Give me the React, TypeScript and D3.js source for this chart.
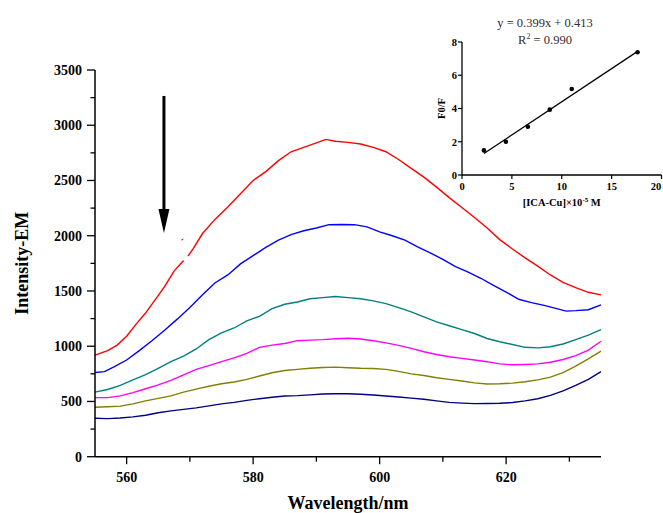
import React from 'react';
import * as d3 from 'd3';

// ---------- main chart data ----------
const xTickMajor = [560, 580, 600, 620];
const xTickMinor = [570, 590, 610, 630];
const yTickMajor = [0, 500, 1000, 1500, 2000, 2500, 3000, 3500];
const yTickMinor = [250, 750, 1250, 1750, 2250, 2750, 3250];

type Pt = [number, number | null];

const redCurve: Pt[] = [
  [555, 920], [557, 960], [558.5, 1010], [560, 1090], [561.5, 1200], [563, 1300], [564.5, 1420],
  [566, 1540], [567.5, 1680], [569, 1775], [569.3, null], [569.7, 1815], [570.5, 1880], [572, 2020],
  [574, 2150], [576, 2260], [578, 2380], [580, 2500], [582, 2580], [584, 2680], [586, 2760],
  [588, 2800], [590, 2840], [591.5, 2872], [593, 2855], [595, 2845], [597, 2830], [599, 2800],
  [601, 2760], [603, 2690], [605, 2610], [607, 2530], [609, 2440], [611, 2345], [613, 2255],
  [615, 2165], [617, 2070], [619, 1965], [621, 1880], [623, 1800], [625, 1725], [627, 1645],
  [629, 1578], [631, 1530], [633, 1488], [635, 1465],
];
const redStray: [number, number][] = [[568.8, 1965]];

const blueCurve: Pt[] = [
  [555, 762], [556.5, 770], [558, 812], [560, 875], [562, 960], [564, 1050], [566, 1145],
  [568, 1245], [570, 1350], [572, 1465], [574, 1575], [576, 1645], [578, 1745], [580, 1820],
  [582, 1895], [584, 1960], [586, 2010], [588, 2045], [590, 2070], [592, 2100], [594, 2102],
  [596, 2100], [598, 2080], [600, 2035], [602, 2000], [604, 1960], [606, 1900], [608, 1845],
  [610, 1785], [612, 1720], [614, 1670], [616, 1615], [618, 1550], [620, 1490], [622, 1425],
  [624, 1395], [626, 1370], [628, 1340], [629.5, 1318], [631, 1322], [633, 1330], [635, 1375],
];

const tealCurve: Pt[] = [
  [555, 584], [557, 608], [559, 645], [561, 695], [563, 742], [565, 800], [567, 860], [569, 910],
  [571, 975], [573, 1060], [575, 1120], [577, 1165], [579, 1230], [581, 1270], [583, 1340],
  [585, 1380], [587, 1400], [589, 1430], [591, 1440], [593, 1450], [595, 1440], [597, 1430],
  [599, 1410], [601, 1385], [603, 1350], [605, 1310], [607, 1265], [609, 1220], [611, 1185],
  [613, 1150], [615, 1115], [617, 1070], [619, 1040], [621, 1015], [623, 990], [625, 985],
  [627, 995], [629, 1020], [631, 1060], [633, 1100], [635, 1150],
];

const magentaCurve: Pt[] = [
  [555, 535], [557, 535], [559, 550], [561, 580], [563, 615], [565, 650], [567, 690], [569, 740],
  [571, 790], [573, 825], [575, 860], [577, 895], [579, 935], [581, 990], [583, 1010], [585, 1025],
  [587, 1050], [589, 1055], [591, 1060], [593, 1068], [595, 1072], [597, 1065], [599, 1050],
  [601, 1030], [603, 1008], [605, 980], [607, 950], [609, 925], [611, 905], [613, 890], [615, 875],
  [617, 860], [619, 840], [621, 832], [623, 835], [625, 840], [627, 855], [629, 880], [631, 915],
  [633, 965], [635, 1045],
];

const oliveCurve: Pt[] = [
  [555, 448], [557, 452], [559, 458], [561, 478], [563, 505], [565, 528], [567, 550], [569, 585],
  [571, 612], [573, 638], [575, 660], [577, 676], [579, 700], [581, 730], [583, 760], [585, 780],
  [587, 790], [589, 800], [591, 808], [593, 811], [595, 805], [597, 800], [599, 798], [601, 790],
  [603, 772], [605, 750], [607, 735], [609, 715], [611, 700], [613, 685], [615, 668], [617, 658],
  [619, 660], [621, 666], [623, 678], [625, 695], [627, 720], [629, 760], [631, 820], [633, 885],
  [635, 955],
];

const navyCurve: Pt[] = [
  [555, 348], [557, 345], [559, 350], [561, 360], [563, 375], [565, 398], [567, 415], [569, 428],
  [571, 442], [573, 460], [575, 478], [577, 492], [579, 510], [581, 525], [583, 538], [585, 550],
  [587, 553], [589, 560], [591, 568], [593, 570], [595, 570], [597, 565], [599, 558], [601, 550],
  [603, 540], [605, 530], [607, 520], [609, 505], [611, 492], [613, 485], [615, 480], [617, 482],
  [619, 484], [621, 490], [623, 505], [625, 525], [627, 555], [629, 595], [631, 645], [633, 700],
  [635, 770],
];

const seriesList = [
  { name: 'c1', color: '#FF0000', data: redCurve },
  { name: 'c2', color: '#0000FF', data: blueCurve },
  { name: 'c3', color: '#008080', data: tealCurve },
  { name: 'c4', color: '#FF00FF', data: magentaCurve },
  { name: 'c5', color: '#808000', data: oliveCurve },
  { name: 'c6', color: '#000080', data: navyCurve },
];

// arrow (in data units)
const arrowWavelength = [565.9];
const arrowFrom = [3265];
const arrowTo = [2025];

// ---------- inset data ----------
const insetX = [2.2, 4.4, 6.6, 8.8, 11.0, 17.6];
const insetY = [1.48, 2.0, 2.9, 3.93, 5.17, 7.38];
const fitSlope = 0.399;
const fitIntercept = 0.413;
const insetXTicks = [0, 5, 10, 15, 20];
const insetYTicks = [0, 2, 4, 6, 8];

const FONT = '"Liberation Serif", "Times New Roman", serif';

export default function App() {
  const W = 663;
  const H = 513;
  // main plot
  const x = d3.scaleLinear().domain([555, 635]).range([95, 601]);
  const y = d3.scaleLinear().domain([0, 3500]).range([456.7, 70]);

  const line = d3
    .line<Pt>()
    .defined((d) => d[1] !== null)
    .x((d) => x(d[0]))
    .y((d) => y(d[1] as number));

  // inset
  const ix = d3.scaleLinear().domain([0, 20]).range([462, 661.5]);
  const iy = d3.scaleLinear().domain([0, 8]).range([175, 42]);
  const fitX = [d3.min(insetX) as number, d3.max(insetX) as number];

  const ax = x(arrowWavelength[0]);
  const ay1 = y(arrowFrom[0]);
  const ay2 = y(arrowTo[0]);

  return (
    <svg
      width={W}
      height={H}
      style={{ position: 'absolute', left: 0, top: 0, background: '#fff' }}
      fontFamily={FONT}
    >
      <rect x={0} y={0} width={W} height={H} fill="#fff" />

      {/* curves */}
      {seriesList.map((s) => (
        <path key={s.name} d={line(s.data) || ''} fill="none" stroke={s.color} strokeWidth={1.4} />
      ))}
      {redStray.map((d, i) => (
        <rect key={i} x={x(d[0]) - 0.7} y={y(d[1]) - 0.7} width={1.4} height={1.4} fill="#FF0000" />
      ))}

      {/* main axes */}
      <line x1={95} x2={95} y1={y(3500)} y2={y(0)} stroke="#000" strokeWidth={1.5} />
      <line x1={95} x2={x(635)} y1={y(0)} y2={y(0)} stroke="#000" strokeWidth={1.5} />
      {yTickMajor.map((t) => (
        <g key={'ym' + t}>
          <line x1={87} x2={95} y1={y(t)} y2={y(t)} stroke="#000" strokeWidth={1.3} />
          <text x={82} y={y(t) + 5} textAnchor="end" fontSize={14} fontWeight="bold">
            {t}
          </text>
        </g>
      ))}
      {yTickMinor.map((t) => (
        <line key={'yn' + t} x1={90.5} x2={95} y1={y(t)} y2={y(t)} stroke="#000" strokeWidth={1.3} />
      ))}
      {xTickMajor.map((t) => (
        <g key={'xm' + t}>
          <line x1={x(t)} x2={x(t)} y1={y(0)} y2={y(0) + 7.5} stroke="#000" strokeWidth={1.3} />
          <text x={x(t)} y={481.5} textAnchor="middle" fontSize={14} fontWeight="bold">
            {t}
          </text>
        </g>
      ))}
      {xTickMinor.map((t) => (
        <line key={'xn' + t} x1={x(t)} x2={x(t)} y1={y(0)} y2={y(0) + 5} stroke="#000" strokeWidth={1.3} />
      ))}
      <text x={348} y={509} textAnchor="middle" fontSize={18} fontWeight="bold">
        Wavelength/nm
      </text>
      <text
        transform={`translate(28, ${(y(0) + y(3500)) / 2}) rotate(-90)`}
        textAnchor="middle"
        fontSize={18}
        fontWeight="bold"
      >
        Intensity-EM
      </text>

      {/* arrow */}
      <line x1={ax} x2={ax} y1={ay1} y2={ay2 - 20} stroke="#000" strokeWidth={3} />
      <path d={`M${ax - 5.5},${ay2 - 24} L${ax + 5.5},${ay2 - 24} L${ax},${ay2} Z`} fill="#000" />

      {/* inset */}
      <text x={545} y={27} textAnchor="middle" fontSize={12.5} fill="#3a2a2a">
        y = 0.399x + 0.413
      </text>
      <text x={545} y={44} textAnchor="middle" fontSize={12.5} fill="#3a2a2a">
        R<tspan dy={-5} fontSize={8}>2</tspan>
        <tspan dy={5}> = 0.990</tspan>
      </text>
      <line x1={ix(0)} x2={ix(0)} y1={iy(0)} y2={iy(8)} stroke="#000" strokeWidth={1.3} />
      <line x1={ix(0)} x2={ix(20)} y1={iy(0)} y2={iy(0)} stroke="#000" strokeWidth={1.3} />
      {insetYTicks.map((t) => (
        <g key={'iy' + t}>
          <line x1={ix(0) - 4} x2={ix(0)} y1={iy(t)} y2={iy(t)} stroke="#000" strokeWidth={1.2} />
          <text x={ix(0) - 5} y={iy(t) + 3.8} textAnchor="end" fontSize={10.5} fontWeight="bold">
            {t}
          </text>
        </g>
      ))}
      {insetXTicks.map((t) => (
        <g key={'ix' + t}>
          <line x1={ix(t)} x2={ix(t)} y1={iy(0)} y2={iy(0) + 4} stroke="#000" strokeWidth={1.2} />
          <text
            x={Math.min(ix(t), W - 7)}
            y={iy(0) + 15}
            textAnchor="middle"
            fontSize={10.5}
            fontWeight="bold"
          >
            {t}
          </text>
        </g>
      ))}
      <text
        transform={`translate(445, ${(iy(0) + iy(8)) / 2}) rotate(-90)`}
        textAnchor="middle"
        fontSize={10.5}
        fontWeight="bold"
      >
        F0/F
      </text>
      <text x={ix(10)} y={206} textAnchor="middle" fontSize={10.5} fontWeight="bold">
        [ICA-Cu]×10<tspan dy={-4} fontSize={7}>-5</tspan>
        <tspan dy={4}> M</tspan>
      </text>
      <line
        x1={ix(fitX[0])}
        x2={ix(fitX[1])}
        y1={iy(fitSlope * fitX[0] + fitIntercept)}
        y2={iy(fitSlope * fitX[1] + fitIntercept)}
        stroke="#000"
        strokeWidth={1.3}
      />
      {insetX.map((v, i) => (
        <circle key={'ip' + i} cx={ix(v)} cy={iy(insetY[i])} r={2.3} fill="#000" />
      ))}
    </svg>
  );
}
